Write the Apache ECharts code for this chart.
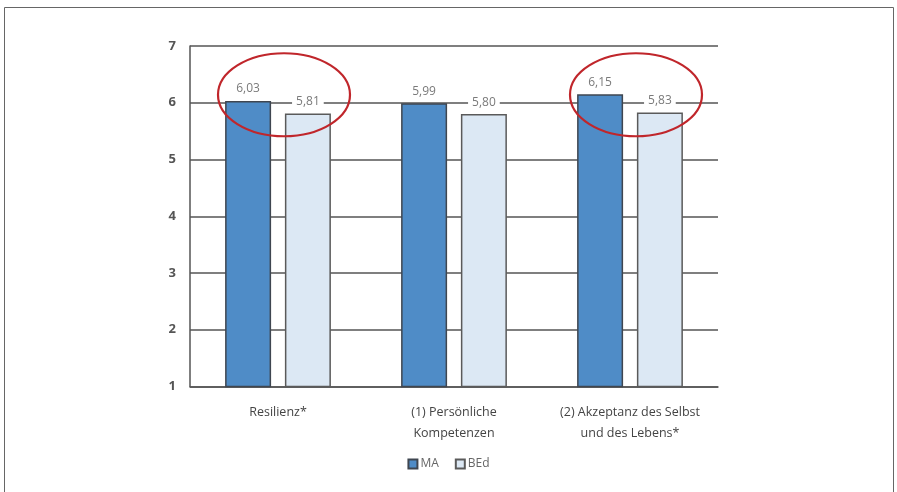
<!DOCTYPE html>
<html>
<head>
<meta charset="utf-8">
<script src="https://cdn.jsdelivr.net/npm/echarts@6/dist/echarts.min.js"></script>
<style>
  html, body { margin: 0; padding: 0; background: #fff; }
  #chart { width: 897px; height: 492px; }
</style>
</head>
<body>
<div id="chart"></div>
<script>
// Resilienz-Skalen: Mittelwerte MA vs. BEd
const categories = ['Resilienz*', '(1) Persönliche\nKompetenzen', '(2) Akzeptanz des Selbst\nund des Lebens*'];
const seriesNames = ['MA', 'BEd'];
const valuesMA = [6.03, 5.99, 6.15];
const valuesBEd = [5.81, 5.80, 5.83];
const yTicks = [1, 2, 3, 4, 5, 6, 7];
// categories that get a red highlight ring
const highlighted = [0, 2];

const FONT = '"Open Sans", "Noto Sans", sans-serif';
const fmt = p => p.value.toFixed(2).replace('.', ',');

const labelStyle = {
  show: true,
  position: 'top',
  distance: 6,
  formatter: fmt,
  color: '#7a7a7a',
  fontFamily: FONT,
  fontSize: 12,
  backgroundColor: '#fff',
  padding: [1, 4, 0, 4]
};

const chart = echarts.init(document.getElementById('chart'), null, { renderer: 'canvas' });

chart.setOption({
  animation: false,
  backgroundColor: '#fff',
  grid: { left: 190, right: 179, top: 46, bottom: 105.5 },
  legend: {
    data: seriesNames,
    bottom: 17,
    left: 'center',
    itemWidth: 9,
    itemHeight: 9,
    itemGap: 16,
    icon: 'rect',
    textStyle: { color: '#666', fontSize: 12, fontFamily: FONT, padding: [0, 0, 0, -2] }
  },
  xAxis: {
    type: 'category',
    data: categories,
    axisLine: { show: true, lineStyle: { color: '#555', width: 1.5 } },
    axisTick: { show: false },
    axisLabel: {
      color: '#444',
      fontSize: 12.5,
      fontFamily: FONT,
      lineHeight: 21,
      margin: 15,
      interval: 0
    }
  },
  yAxis: {
    type: 'value',
    min: yTicks[0],
    max: yTicks[yTicks.length - 1],
    interval: 1,
    axisLine: { show: true, lineStyle: { color: '#555', width: 1.5 } },
    axisTick: { show: false },
    axisLabel: {
      color: '#555',
      fontSize: 13,
      fontWeight: 'bold',
      fontFamily: FONT,
      margin: 14
    },
    splitLine: { show: true, lineStyle: { color: '#555', width: 1.5 } }
  },
  series: [
    {
      name: seriesNames[0],
      type: 'bar',
      data: valuesMA,
      barWidth: 46,
      barGap: '30%',
      itemStyle: { color: '#4f8cc7', borderColor: '#3f4650', borderWidth: 1.5 },
      label: labelStyle,
      z: 3
    },
    {
      name: seriesNames[1],
      type: 'bar',
      data: valuesBEd,
      barWidth: 46,
      barGap: '30%',
      itemStyle: { color: '#dce8f4', borderColor: '#5a5a5a', borderWidth: 1.5 },
      label: labelStyle,
      z: 3
    }
  ]
});

// red rings around the highlighted groups plus the outer frame
function drawOverlay() {
  const rings = highlighted.map(i => {
    const c = chart.convertToPixel({ xAxisIndex: 0, yAxisIndex: 0 }, [i, 6]);
    return {
      type: 'ellipse',
      shape: { cx: c[0] + 6, cy: c[1] - 8, rx: 66, ry: 41.5 },
      style: { fill: 'none', stroke: '#c0262b', lineWidth: 2.2 },
      z: 10
    };
  });
  chart.setOption({
    graphic: [
      {
        type: 'rect',
        shape: { x: 4.5, y: 7.5, width: 889, height: 500 },
        style: { fill: 'none', stroke: '#666', lineWidth: 1 },
        z: 0
      }
    ].concat(rings)
  });
}
drawOverlay();
</script>
</body>
</html>
